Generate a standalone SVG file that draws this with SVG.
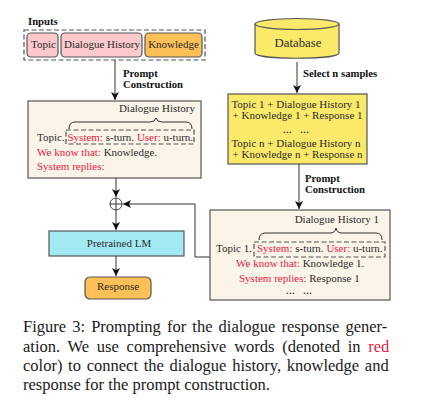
<svg xmlns="http://www.w3.org/2000/svg" width="427" height="407" viewBox="0 0 427 407">
<style>
text{font-family:"Liberation Serif","Times New Roman",serif;font-size:11px;fill:#2b2b2b}
.b{font-weight:bold;font-size:10.700px;fill:#111}
.r{fill:#e8213f}
.box{stroke:#555;stroke-width:1.2}
.dash{fill:none;stroke:#555;stroke-width:1.2;stroke-dasharray:5 2.5}
.line{fill:none;stroke:#333;stroke-width:1}
.cap{font-size:16.500px;fill:#1a1a1a}
.dots{font-size:9px;font-weight:bold;letter-spacing:.5px}
</style>
<defs>
<marker id="a" markerUnits="userSpaceOnUse" markerWidth="10" markerHeight="10" refX="8" refY="4" orient="auto"><path d="M0 0L8 4L0 8L2 4Z" fill="#111"/></marker>
</defs>
<rect width="427" height="407" fill="#fff"/>
<g id="inputs">
<text class="b" x="28" y="25">Inputs</text>
<rect class="dash" x="24" y="30" width="181" height="30"/>
</g>
<g id="topic"><rect class="box" x="27" y="33" width="31" height="24" rx="4" fill="#fcc9cc"/><text x="43.500" y="48" text-anchor="middle">Topic</text></g>
<g id="dialogue-history"><rect class="box" x="61" y="33" width="81" height="24" rx="4" fill="#fcc9cc"/><text x="102" y="48" text-anchor="middle">Dialogue History</text></g>
<g id="knowledge"><rect class="box" x="145" y="33" width="57" height="24" rx="4" fill="#fdc058"/><text x="173.500" y="48" text-anchor="middle">Knowledge</text></g>
<g id="prompt-box">
<rect class="box" x="28" y="101" width="173" height="77" fill="#fbf4e8"/>
<text x="195" y="112" text-anchor="end">Dialogue History</text>
<path class="line" d="M69 129Q69 122 75 122H150Q155 122 156 118Q157 122 162 122H186Q192 122 192 129"/>
<rect class="dash" x="66" y="130" width="128" height="14"/>
<text x="37" y="141">Topic.</text>
<text x="67.500" y="141"><tspan class="r">System:</tspan> s-turn. <tspan class="r">User:</tspan> u-turn.</text>
<text x="37" y="156"><tspan class="r">We know that:</tspan> Knowledge.</text>
<text class="r" x="37" y="170">System replies:</text>
</g>
<g id="database">
<path class="box" d="M255 24V53C255 60 339 60 339 53V24Z" fill="#fbe96a"/>
<ellipse class="box" cx="297" cy="24" rx="42" ry="5.500" fill="#fbe96a"/>
<text x="298" y="47" text-anchor="middle" style="font-size:12.800px">Database</text>
</g>
<g id="samples">
<rect class="box" x="228" y="94" width="139" height="70" fill="#fbe96a"/>
<text x="296" y="108" text-anchor="middle">Topic 1 + Dialogue History 1</text>
<text x="297.500" y="119" text-anchor="middle">+ Knowledge 1 + Response 1</text>
<text class="dots" x="296" y="133" text-anchor="middle" word-spacing="5">… …</text>
<text x="296" y="147" text-anchor="middle">Topic n + Dialogue History n</text>
<text x="297.500" y="158" text-anchor="middle">+ Knowledge n + Response n</text>
</g>
<g id="example-box">
<rect class="box" x="210" y="210" width="180" height="90" fill="#fbf4e8"/>
<text x="379" y="223" text-anchor="end">Dialogue History 1</text>
<path class="line" d="M259 240Q259 233 265 233H330Q335 233 336 228Q337 233 342 233H376Q382 233 382 240"/>
<rect class="dash" x="254" y="242" width="131" height="15"/>
<text x="216" y="252">Topic 1.</text>
<text x="257" y="252"><tspan class="r">System:</tspan> s-turn. <tspan class="r">User:</tspan> u-turn.</text>
<text x="236" y="267"><tspan class="r">We know that:</tspan> Knowledge 1.</text>
<text x="239" y="282"><tspan class="r">System replies:</tspan> Response 1</text>
<text class="dots" x="299" y="293.500" text-anchor="middle" word-spacing="5">… …</text>
</g>
<g id="plus"><circle cx="116" cy="204" r="6" fill="#fff" stroke="#444"/><path class="line" d="M110 204H122M116 198V210"/></g>
<g id="lm"><rect class="box" x="49" y="231" width="135" height="25" fill="#a3e9f4"/><text x="119" y="247" text-anchor="middle">Pretrained LM</text></g>
<g id="response"><rect class="box" x="85" y="277" width="66" height="22" rx="5" fill="#fdc058"/><text x="118" y="290" text-anchor="middle">Response</text></g>
<g id="connectors">
<path class="line" d="M115 60V100" marker-end="url(#a)"/>
<path class="line" d="M297 62V93" marker-end="url(#a)"/>
<path class="line" d="M299 164V209" marker-end="url(#a)"/>
<path class="line" d="M116 178V197" marker-end="url(#a)"/>
<path class="line" d="M116 210V230" marker-end="url(#a)"/>
<path class="line" d="M116 256V276" marker-end="url(#a)"/>
<path class="line" d="M210 257H195V204H123" marker-end="url(#a)"/>
<text class="b" x="123" y="77">Prompt</text><text class="b" x="123" y="88">Construction</text>
<text class="b" x="303" y="77">Select n samples</text>
<text class="b" x="305" y="182">Prompt</text><text class="b" x="305" y="193">Construction</text>
</g>
<g id="caption">
<text class="cap" x="23" y="332" word-spacing="2">Figure 3: Prompting for the dialogue response gener-</text>
<text class="cap" x="23" y="352" word-spacing="3.600">ation.  We use comprehensive words (denoted in <tspan style="fill:#e8213f">red</tspan></text>
<text class="cap" x="23" y="371" word-spacing="1.600">color) to connect the dialogue history, knowledge and</text>
<text class="cap" x="23" y="390">response for the prompt construction.</text>
</g>
</svg>
